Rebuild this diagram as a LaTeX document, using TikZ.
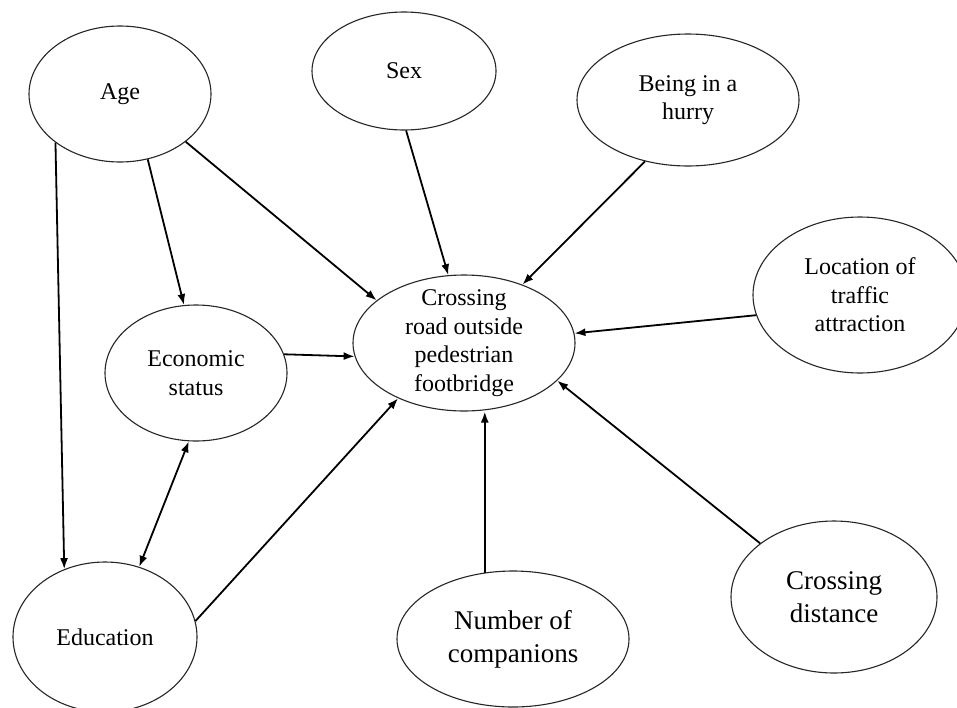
\documentclass[tikz,border=0pt]{standalone}
\usepackage{fontspec}
\setmainfont{Liberation Serif}
\usetikzlibrary{shapes.geometric,arrows.meta}
\begin{document}
\begin{tikzpicture}[x=1pt,y=-1pt]
\tikzset{
  oval/.style={draw=black!85, line width=1.1pt, ellipse, inner sep=0pt, align=center,
    font=\fontsize{24}{28.5}\selectfont},
  bigoval/.style={oval, font=\fontsize{27}{33}\selectfont},
  link/.style={line width=1.8pt, -{Latex[length=11pt,width=8pt]}},
  duallink/.style={line width=1.8pt, {Latex[length=11pt,width=8pt]}-{Latex[length=11pt,width=8pt]}}
}
\useasboundingbox (0,0) rectangle (957,707);
\fill[white] (0,0) rectangle (957,707);

\node[oval, minimum width=182pt, minimum height=136pt] (age) at (120,94) {Age};
\node[oval, minimum width=184pt, minimum height=118pt] (sex) at (404,71) {Sex};
\node[oval, minimum width=222pt, minimum height=132pt] (hurry) at (688,100) {Being in a\\hurry};
\node[oval, minimum width=214pt, minimum height=156pt] (loc) at (860,295) {Location of\\traffic\\attraction};
\node[oval, inner ysep=-12pt, minimum width=222pt, minimum height=136pt] (c) at (464,343) {Crossing\\road outside\\pedestrian\\footbridge};
\node[oval, minimum width=182pt, minimum height=136pt] (eco) at (196,373) {Economic\\status};
\node[oval, minimum width=184pt, minimum height=150pt] (edu) at (105,637) {Education};
\node[bigoval, minimum width=232pt, minimum height=136pt] (num) at (513,639) {Number of\\companions};
\node[bigoval, minimum width=206pt, minimum height=152pt] (cd) at (834,597) {Crossing\\distance};

\draw[link] (age.-67.6) -- (eco.100.5);
\draw[link] (age.-36.2) -- (c.154.2);
\draw[link] (age.217.4) -- (edu.121);
\draw[link] (sex.-88) -- (c.103.8);
\draw[link] (hurry.235.7) -- (c.45.5);
\draw[link] (loc.191.6) -- (c.5);
\draw[link] (eco.12) -- (c.187.3);
\draw[duallink] (eco.264.9) -- (edu.64.7);
\draw[link] (edu.10.6) -- (c.220.9);
\draw[link] (num.113) -- (num.113 |- c.south);
\draw[link] (cd.144.5) -- (c.-22);
\end{tikzpicture}
\end{document}
